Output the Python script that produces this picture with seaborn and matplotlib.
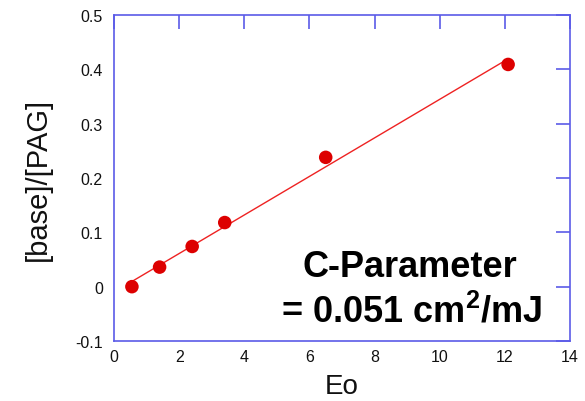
import numpy as np
import pandas as pd
import matplotlib
matplotlib.use("Agg")
import matplotlib.pyplot as plt
import seaborn as sns

# Exposure dose vs. base/PAG ratio
eo = [0.55, 1.4, 2.4, 3.4, 6.5, 12.1]
ratio = [0.0, 0.036, 0.074, 0.118, 0.238, 0.409]
x_ticks = [0, 2, 4, 6, 8, 10, 12, 14]
y_ticks = [-0.1, 0, 0.1, 0.2, 0.3, 0.4, 0.5]
y_tick_labels = ["-0.1", "0", "0.1", "0.2", "0.3", "0.4", "0.5"]

sns.set_style("white")
plt.rcParams["font.family"] = ["Liberation Sans", "DejaVu Sans"]
plt.rcParams["mathtext.fontset"] = "custom"
plt.rcParams["mathtext.rm"] = "Liberation Sans"
plt.rcParams["mathtext.bf"] = "Liberation Sans:bold"
plt.rcParams["text.color"] = "#111111"
plt.rcParams["axes.labelcolor"] = "#111111"

df = pd.DataFrame({"Eo": eo, "ratio": ratio})

W, H = 585, 402
fig = plt.figure(figsize=(W / 100, H / 100), dpi=100)
ax = fig.add_axes([114 / W, 1 - 342 / H, (570 - 114) / W, (342 - 16) / H])

sns.regplot(data=df, x="Eo", y="ratio", ax=ax, ci=None,
            scatter_kws=dict(s=95, color="#dd0000", alpha=1, edgecolor="none", zorder=3),
            line_kws=dict(color="#ee2222", lw=1.0, zorder=2))

ax.set_xlim(0, 14)
ax.set_ylim(-0.1, 0.5)
ax.set_xticks(x_ticks)
ax.set_yticks(y_ticks)
ax.set_yticklabels(y_tick_labels)

spine_color = "#5b5be8"
for s in ax.spines.values():
    s.set_color(spine_color)
    s.set_linewidth(1.2)
ax.tick_params(direction="in", length=10, width=1.2, color=spine_color,
               top=True, right=True, labelsize=11.5, labelcolor="#111111")
ax.tick_params(axis="x", pad=6)
ax.tick_params(axis="y", pad=8)

ax.set_xlabel("Eo", fontsize=20, labelpad=6)
ax.set_ylabel("[base]/[PAG]", fontsize=21, labelpad=17)

# Annotation, positioned in figure fraction
ax.text(410 / W, 1 - 268 / H, "C-Parameter", transform=fig.transFigure,
        fontsize=26, fontweight="bold", ha="center", va="center", color="black")
ax.text(411 / W, 1 - 312 / H, r"= 0.051 cm$^{\mathbf{2}}$/mJ", transform=fig.transFigure,
        fontsize=26, fontweight="bold", ha="center", va="center", color="black")

fig.savefig("out.png", dpi=100)
